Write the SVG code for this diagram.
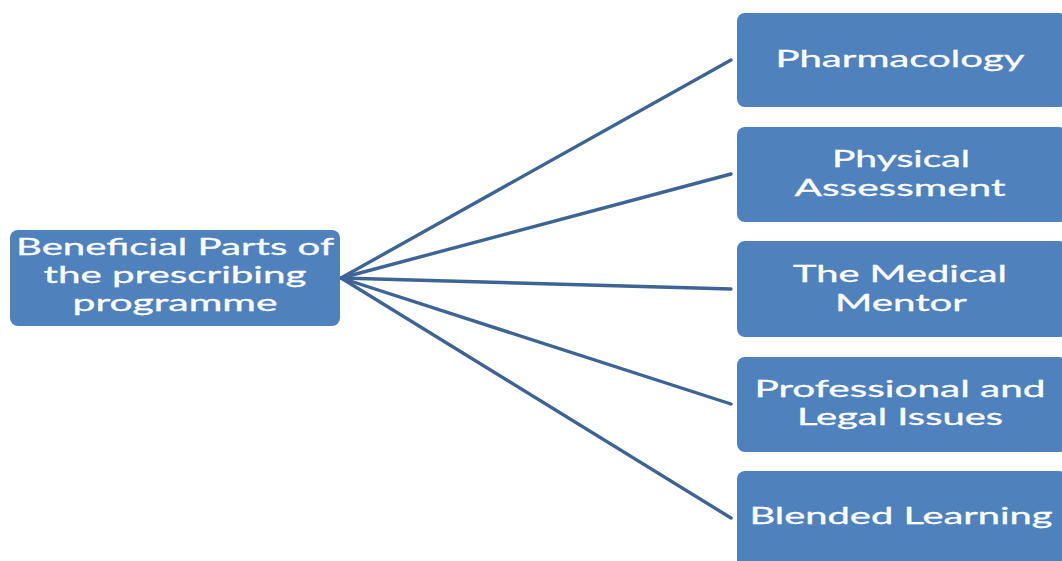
<svg xmlns="http://www.w3.org/2000/svg" width="1062" height="561" viewBox="0 0 1062 561">
  <style>
    .box { fill: #4f81bd; stroke: none; }
    .lbl { fill: #ffffff; stroke: #ffffff; stroke-width: 0.3; font-family: Lato, "Open Sans", "Liberation Sans", sans-serif; font-size: 23px; text-anchor: middle; }
    .edge { stroke: #3e6496; stroke-width: 3.4; fill: none; stroke-linecap: round; }
  </style>
  <rect width="1062" height="561" fill="#ffffff"/>

  <!-- connectors fanning out from the root -->
  <g id="connectors">
    <line class="edge" x1="341" y1="278" x2="731" y2="60"/>
    <line class="edge" x1="341" y1="278" x2="731" y2="174"/>
    <line class="edge" x1="341" y1="278" x2="731" y2="289"/>
    <line class="edge" x1="341" y1="278" x2="731" y2="404"/>
    <line class="edge" x1="341" y1="278" x2="731" y2="518"/>
  </g>

  <g id="root">
    <rect class="box" x="10" y="230" width="330" height="96" rx="8"/>
    <text class="lbl" x="175" y="255" textLength="318" lengthAdjust="spacingAndGlyphs">Beneficial Parts of</text>
    <text class="lbl" x="175" y="283" textLength="263" lengthAdjust="spacingAndGlyphs">the prescribing</text>
    <text class="lbl" x="175" y="311" textLength="205" lengthAdjust="spacingAndGlyphs">programme</text>
  </g>

  <g id="pharmacology">
    <rect class="box" x="737" y="13" width="330" height="94" rx="8"/>
    <text class="lbl" x="900" y="67" textLength="249" lengthAdjust="spacingAndGlyphs">Pharmacology</text>
  </g>

  <g id="physical-assessment">
    <rect class="box" x="737" y="127" width="330" height="95" rx="8"/>
    <text class="lbl" x="901" y="167" textLength="138" lengthAdjust="spacingAndGlyphs">Physical</text>
    <text class="lbl" x="900" y="196" textLength="211" lengthAdjust="spacingAndGlyphs">Assessment</text>
  </g>

  <g id="medical-mentor">
    <rect class="box" x="737" y="241" width="330" height="96" rx="8"/>
    <text class="lbl" x="900" y="282" textLength="214" lengthAdjust="spacingAndGlyphs">The Medical</text>
    <text class="lbl" x="901" y="311" textLength="132" lengthAdjust="spacingAndGlyphs">Mentor</text>
  </g>

  <g id="professional-legal">
    <rect class="box" x="737" y="357" width="330" height="95" rx="8"/>
    <text class="lbl" x="900" y="397" textLength="291" lengthAdjust="spacingAndGlyphs">Professional and</text>
    <text class="lbl" x="900" y="425" textLength="206" lengthAdjust="spacingAndGlyphs">Legal Issues</text>
  </g>

  <g id="blended-learning">
    <rect class="box" x="737" y="471" width="330" height="100" rx="8"/>
    <text class="lbl" x="901" y="524" textLength="303" lengthAdjust="spacingAndGlyphs">Blended Learning</text>
  </g>
</svg>
